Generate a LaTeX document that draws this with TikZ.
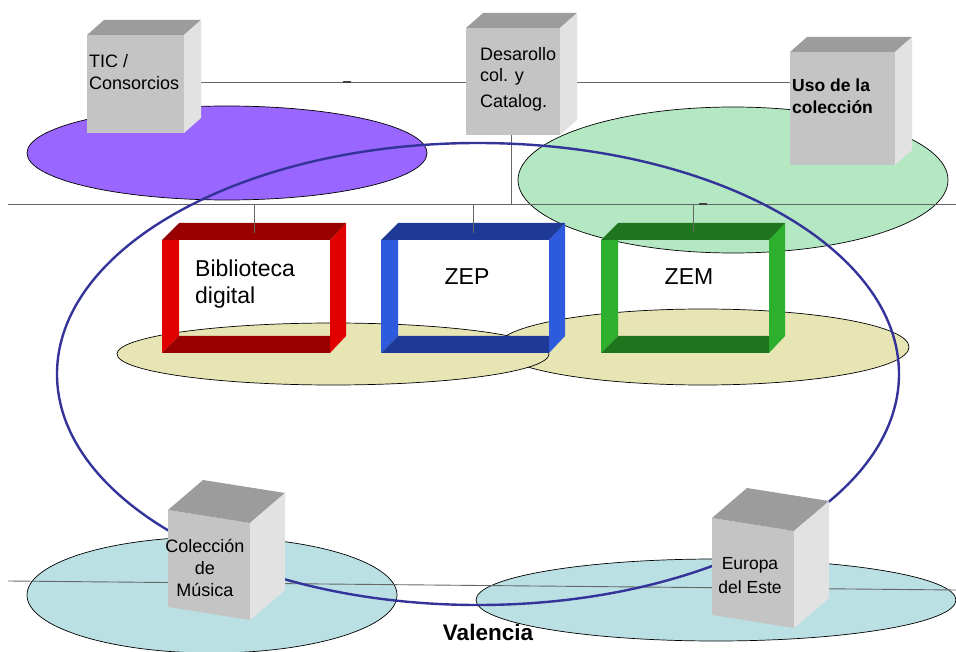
\documentclass[tikz,border=0pt]{standalone}
\usepackage{fontspec}
\setmainfont{Liberation Sans}
\usetikzlibrary{calc}
\definecolor{cFront}{HTML}{C4C4C4}
\definecolor{cTop}{HTML}{9C9C9C}
\definecolor{cSide}{HTML}{E2E2E2}
\definecolor{cPurple}{HTML}{9966FF}
\definecolor{cMint}{HTML}{B3E8C2}
\definecolor{cSand}{HTML}{E8E5B5}
\definecolor{cAqua}{HTML}{BAE0E4}
\definecolor{cRing}{HTML}{333399}
\definecolor{redA}{HTML}{E00000}
\definecolor{redB}{HTML}{990000}
\definecolor{blueA}{HTML}{2E5BDD}
\definecolor{blueB}{HTML}{1F3A96}
\definecolor{greenA}{HTML}{2DB02D}
\definecolor{greenB}{HTML}{1E751E}
\tikzset{
	wire/.style={draw=black!60, line width=0.9pt},
	blob/.style={draw=black, line width=0.7pt},
	ring/.style={draw=cRing, line width=2.4pt},
	frontface/.style={fill=cFront, inner sep=0pt, outer sep=0pt},
	boxlbl/.style={inner sep=0pt, align=left, font=\fontsize{18}{21.5}\selectfont},
	towerlbl/.style={inner sep=0pt, align=center, font=\fontsize{18}{22}\selectfont},
	zonelbl/.style={inner sep=0pt, align=left, font=\fontsize{23}{27}\selectfont}
}

\newcommand{\server}[5] % name, x, y of front top-left (px), width, height
{
	% front face
	\node[frontface, minimum width=#4pt, minimum height=#5pt, anchor=north west] (#1) at (#2,#3) {};
	% top face
	\fill[cTop] (#1.north west) -- ++(17,-15) -- ($(#1.north east)+(17,-15)$) -- (#1.north east) -- cycle;
	% side face
	\fill[cSide] (#1.north east) -- ++(17,-15) -- ($(#1.south east)+(17,-15)$) -- (#1.south east) -- cycle;
}

\newcommand{\tower}[3] % name, x, y of front top-left (px)
{
	% front face
	\fill[cFront] (#2,#3) -- (#2+82,#3+13) -- (#2+82,#3+110) -- (#2,#3+97) -- cycle;
	% top face
	\fill[cTop] (#2,#3) -- (#2+35,#3-30) -- (#2+117,#3-17) -- (#2+82,#3+13) -- cycle;
	% side face
	\fill[cSide] (#2+82,#3+13) -- (#2+117,#3-17) -- (#2+117,#3+80) -- (#2+82,#3+110) -- cycle;
	\coordinate (#1) at (#2+41,#3+55);
}

\newcommand{\zone}[4] % name, x of outer left (px), light colour, dark colour
{
	% side bars
	\fill[#3] (#2,240) -- (#2+17,240) -- (#2+17,336) -- (#2,353) -- cycle;
	\fill[#3] (#2+168,240) -- (#2+184,223) -- (#2+184,336) -- (#2+168,353) -- cycle;
	% top and bottom
	\fill[#4] (#2,240) -- (#2+17,223) -- (#2+184,223) -- (#2+168,240) -- cycle;
	\fill[#4] (#2,353) -- (#2+17,336) -- (#2+168,336) -- (#2+168,353) -- cycle;
	% hook for the connector
	\coordinate (#1) at (#2+92,233);
}

\begin{document}
\begin{tikzpicture}[x=1pt, y=-1pt]
	% canvas 956 x 652 px
	\useasboundingbox (0,0) rectangle (956,652);
	% areas
	\draw[blob, fill=cPurple] (227,153) ellipse [x radius=200, y radius=47];
	\draw[blob, fill=cMint] (733,180) ellipse [x radius=215, y radius=73];
	\draw[blob, fill=cSand] (703,347) ellipse [x radius=206, y radius=38];
	\draw[blob, fill=cSand] (333,354) ellipse [x radius=216, y radius=31];
	\draw[blob, fill=cAqua] (212,595) ellipse [x radius=185, y radius=58];
	\draw[blob, fill=cAqua] (716,600) ellipse [x radius=240, y radius=41];
	% zones
	\zone{bib}{162}{redA}{redB};
	\zone{zep}{381}{blueA}{blueB};
	\zone{zem}{601}{greenA}{greenB};
	% buses
	\coordinate (busL) at (8,204);
	\coordinate (busR) at (956,204);
	\coordinate (lowL) at (8,581);
	\coordinate (lowR) at (956,590);
	\draw[wire] (busL) -- (busR);
	\draw[wire] (lowL) -- (lowR);
	\draw[wire] (bib |- busL) -- (bib);
	\draw[wire] (zep |- busL) -- (zep);
	\draw[wire] (zem |- busL) -- (zem);
	\draw[black!75, line width=2pt] (699,204) -- (707,204);
	% upper boxes
	\coordinate (tieL) at (190,82);
	\coordinate (tieR) at (792,82);
	\draw[wire] (tieL) -- (tieR);
	\draw[black!75, line width=2pt] (343,82) -- (351,82);
	\coordinate (desaFoot) at (511,130);
	\draw[wire] (desaFoot) -- (desaFoot |- busL);
	% network ring
	\draw[ring] (478,374) ellipse [x radius=421, y radius=231];
	% servers
	\server{tic}{87}{35}{97}{98};
	\server{desa}{466}{28}{94}{107};
	\server{uso}{790}{52}{105}{113};
	\tower{musica}{168}{510};
	\tower{este}{712}{518};
	% labels
	\node[boxlbl, anchor=west] (ticTxt) at (89,72) {TIC /\\Consorcios};
	\node[boxlbl, anchor=west] (desaTxt) at (480,79) {Desarollo\\col. y\\[4pt]Catalog.};
	\node[boxlbl, anchor=west, font=\fontsize{17.5}{21.5}\selectfont\bfseries] (usoTxt) at (792,96) {Uso de la\\colección};
	\node[zonelbl, anchor=west] (bibTxt) at (195,284) {Biblioteca\\digital};
	\node[zonelbl] (zepTxt) at (467,277) {ZEP};
	\node[zonelbl] (zemTxt) at (689,277) {ZEM};
	\node[towerlbl] (musicaTxt) at (205,568) {Colección\\de\\Música};
	\node[towerlbl, font=\fontsize{17.5}{24}\selectfont] (esteTxt) at (750,576) {Europa\\del Este};
	\node[inner sep=0pt, font=\fontsize{22.5}{25}\selectfont\bfseries] (city) at (488,632) {Valencia};
\end{tikzpicture}
\end{document}
